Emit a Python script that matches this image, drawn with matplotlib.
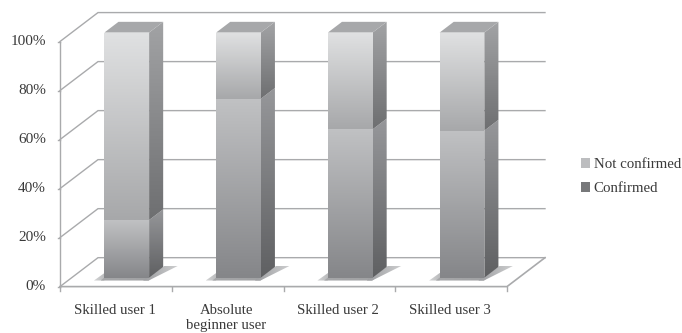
import numpy as np
import matplotlib
matplotlib.use('Agg')
import matplotlib.pyplot as plt
from matplotlib.patches import Polygon, Patch
from matplotlib.colors import LinearSegmentedColormap

categories = ["Skilled user 1", "Absolute\nbeginner user", "Skilled user 2", "Skilled user 3"]
confirmed = [23.5, 73, 60.5, 60]
not_confirmed = [76.5, 27, 39.5, 40]
y_ticks = [0, 20, 40, 60, 80, 100]

LINE = "#a9aaac"
TEXT = "#3a3a3a"
DEPTH_X = 0.34
DEPTH_Y = 11.8
BAR_W = 0.40
D0, D1 = 0.31, 0.68

plt.rcParams['font.family'] = ['Liberation Serif', 'DejaVu Serif']

fig = plt.figure(figsize=(6.82, 3.33), dpi=100)
ax = fig.add_axes([0, 0, 1, 1])
ax.set_xlim(-60 / 111.75, 622 / 111.75)
ax.set_ylim(-(333 - 286.6) / 2.451, 286.6 / 2.451)
ax.axis('off')


def proj(x, y, d):
    return x + d * DEPTH_X, y + d * DEPTH_Y


def shade(points, top, bottom, z, horizontal=False):
    # fill a polygon with a two colour gradient, clipped from an image
    pts = np.array(points)
    cmap = LinearSegmentedColormap.from_list("g", [top, bottom])
    grad = np.linspace(0, 1, 128).reshape(-1, 1)
    if horizontal:
        grad = grad.T
    ext = [pts[:, 0].min(), pts[:, 0].max(), pts[:, 1].min(), pts[:, 1].max()]
    im = ax.imshow(grad, cmap=cmap, extent=ext, aspect='auto', origin='upper', zorder=z, vmin=0, vmax=1)
    poly = Polygon(pts, closed=True, transform=ax.transData, facecolor='none', edgecolor='none')
    ax.add_patch(poly)
    im.set_clip_path(poly)


n = len(categories)

# back wall and side wall grid
for t in y_ticks:
    x0, y0 = proj(0, t, 0)
    x1, y1 = proj(0, t, 1)
    x2, y2 = proj(n, t, 1)
    ax.plot([x0, x1, x2], [y0, y1, y2], color=LINE, lw=1, zorder=1, solid_joinstyle='miter')
    ax.plot([x0 - 0.018, x0], [t, t], color=LINE, lw=1, zorder=1)

# floor front edge, right edge and left axis
xr, yr = proj(n, 0, 1)
ax.plot([0, n, xr], [0, 0, yr], color=LINE, lw=1.2, zorder=1)
ax.plot([0, 0], [0, 100], color=LINE, lw=1, zorder=1)
for i in range(n + 1):
    ax.plot([i, i], [0, -1.8], color=LINE, lw=1, zorder=1)

for i in range(n):
    left = i + 0.5 - BAR_W / 2 - 0.008
    right = left + BAR_W

    # shadow on the floor, darkest next to the bar
    shadow = [proj(left - 0.06, 0, D0 - 0.1), proj(left + 0.03, 0, D0 - 0.1),
              proj(left + 0.03, 0, D0 + 0.16), proj(left - 0.054, 0, D0 + 0.16)]
    shade(shadow, "#d4d5d6", "#a3a4a6", 2, horizontal=True)
    shadow_b = [proj(left, 0, D0 - 0.1), proj(right + 0.03, 0, D0 - 0.1),
                proj(right + 0.03, 0, D0 + 0.02), proj(left, 0, D0 + 0.02)]
    shade(shadow_b, "#a6a7a9", "#a0a1a3", 2, horizontal=True)
    shadow_r = [proj(right - 0.02, 0, D0 - 0.1), proj(right + 0.03, 0, D0 - 0.1),
                proj(right + 0.12, 0, D1 + 0.04), proj(right, 0, D1 + 0.04)]
    shade(shadow_r, "#9c9da0", "#cfd0d1", 2, horizontal=True)

    base = [(0, confirmed[i], "#c0c1c3", "#858689", "#96979a", "#5f6062"),
            (confirmed[i], confirmed[i] + not_confirmed[i], "#e0e1e2", "#a7a8aa", "#a2a3a5", "#6e6f71")]
    for lo, hi, top, bottom, s_top, s_bottom in base:
        front = [proj(left, lo, D0), proj(right, lo, D0), proj(right, hi, D0), proj(left, hi, D0)]
        shade(front, top, bottom, 3)
        side = [proj(right, lo, D0), proj(right, lo, D1), proj(right, hi, D1), proj(right, hi, D0)]
        shade(side, s_top, s_bottom, 3)

    cap = [proj(left, 100, D0), proj(right, 100, D0), proj(right, 100, D1), proj(left, 100, D1)]
    ax.add_patch(Polygon(cap, closed=True, facecolor="#a7a8aa", edgecolor='none', zorder=3))

    ax.text(i + 0.5 - 0.012, -7.3, categories[i], ha='center', va='top', fontsize=10.6,
            color=TEXT, linespacing=1.2)

for t in y_ticks:
    ax.text(-0.125, t, "%d%%" % t, ha='right', va='center', fontsize=11, color=TEXT)

handles = [Patch(facecolor="#bcbdbf", label="Not confirmed"), Patch(facecolor="#77787a", label="Confirmed")]
ax.legend(handles=handles, loc='center left', bbox_to_anchor=(0.852, 0.47), frameon=False,
          fontsize=10.7, labelcolor=TEXT, handlelength=0.62, handleheight=0.62, handletextpad=0.22,
          labelspacing=0.75, borderpad=0, borderaxespad=0)

fig.savefig("out.png", dpi=100)
